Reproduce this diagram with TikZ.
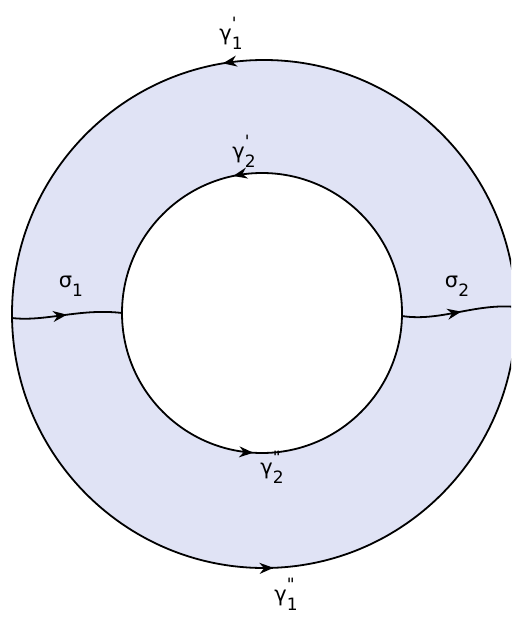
\documentclass[tikz,border=0pt]{standalone}
\usepackage{fontspec}
\setmainfont{DejaVu Sans}
\usetikzlibrary{arrows.meta, decorations.markings}

\definecolor{ringfill}{RGB}{224,227,245}

% label: gamma or sigma with a mark above and an index below
\newcommand{\ringlab}[3]{#1\makebox[0pt][l]{\raisebox{0.55em}{\fontsize{17}{17}\selectfont #2}}\raisebox{-0.42em}{\fontsize{17}{17}\selectfont #3}}

\begin{document}
\begin{tikzpicture}[
  x = 1pt, y = 1pt,
  every node/.style = {font=\fontsize{21}{23}\selectfont, inner sep=1pt},
  ringtip/.tip = {Stealth[length=14pt, width=11pt]},
  edge/.style  = {line width=1.8pt, black},
  mid/.style   = {postaction={decorate, decoration={markings,
                  mark=at position #1 with {\arrow{ringtip}}}}},
  twomid/.style 2 args = {postaction={decorate, decoration={markings,
                  mark=at position #1 with {\arrow{ringtip}},
                  mark=at position #2 with {\arrow{ringtip}}}}}
]

\clip (0,0) rectangle (511,-617);

% ---- the ring -----------------------------------------------------------
\fill[ringfill] (264,-314) ellipse [x radius=252, y radius=254];
\fill[white]    (262,-313) circle [radius=140];
\draw[edge, twomid={0.276}{0.756}] (264,-314) ellipse [x radius=252, y radius=254];
\draw[edge, twomid={0.283}{0.740}] (262,-313) circle [radius=140];

% ---- cuts joining the two boundaries -------------------------------------
\coordinate (outW) at (12,-318);
\coordinate (inW)  at (122,-313);
\coordinate (inE)  at (402,-316);
\coordinate (outE) at (516,-307);

\draw[edge, mid=0.5] (outW) .. controls (45,-322) and (80,-308) .. (inW);
\draw[edge, mid=0.52] (inE) .. controls (440,-322) and (475,-303) .. (outE);

% ---- labels -------------------------------------------------------------
\node (g1a) at (231,-33)  {\ringlab{γ}{\textquotesingle}{1}};
\node (g2a) at (244,-151) {\ringlab{γ}{\textquotesingle}{2}};
\node (s1)  at (71,-286)  {\ringlab{σ}{}{1}};
\node (s2)  at (457,-286) {\ringlab{σ}{}{2}};
\node (g2b) at (272,-467) {\ringlab{γ}{\textquotedbl}{2}};
\node (g1b) at (286,-594) {\ringlab{γ}{\textquotedbl}{1}};

\end{tikzpicture}
\end{document}
